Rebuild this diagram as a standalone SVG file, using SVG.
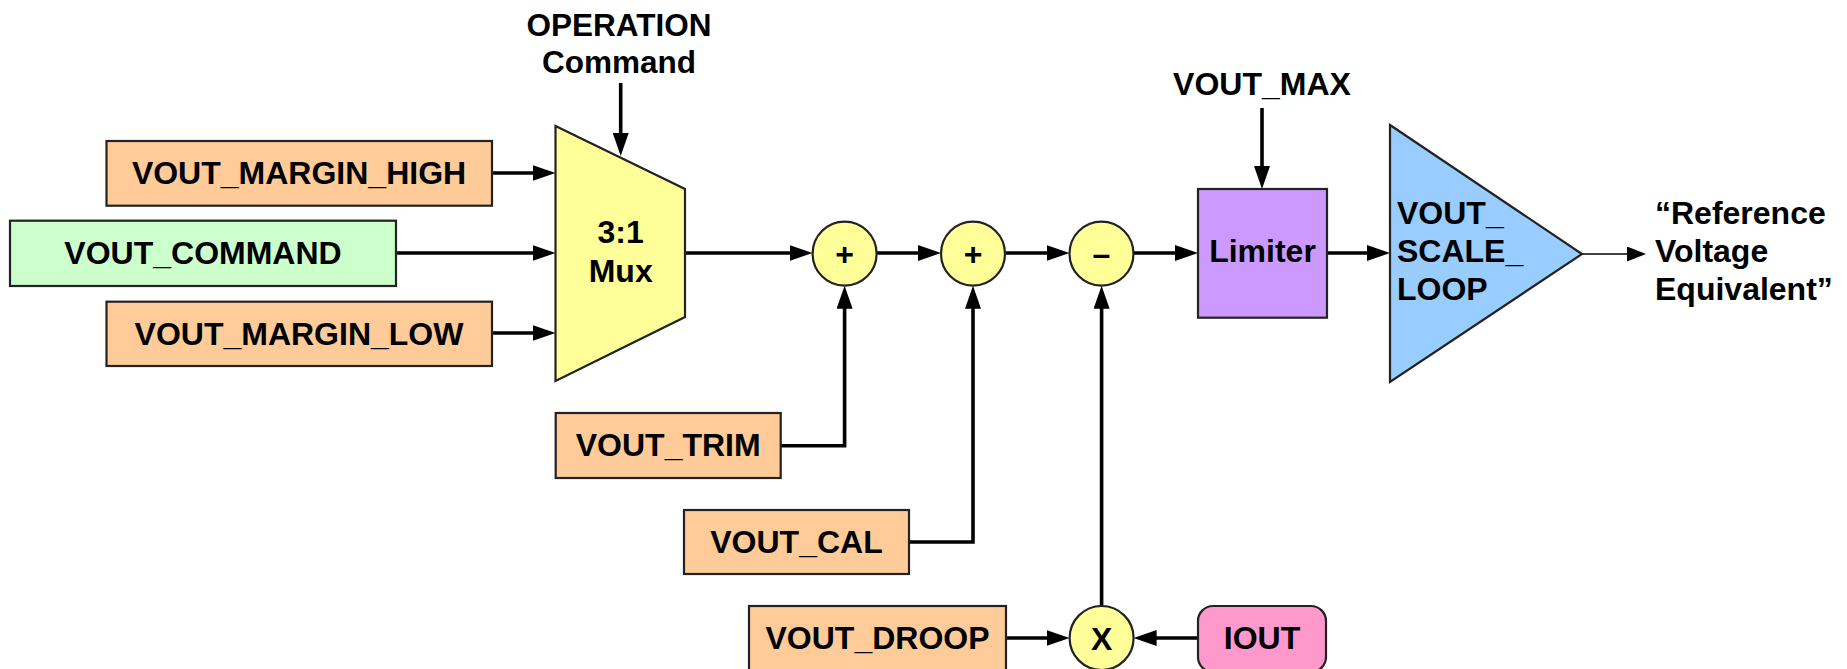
<svg xmlns="http://www.w3.org/2000/svg" width="1847" height="669" viewBox="0 0 1847 669">
<style>
text{font-family:"Liberation Sans",Arial,Helvetica,sans-serif;font-weight:bold;font-size:32px;fill:#000}
.c{text-anchor:middle}
.box{stroke:#222;stroke-width:2.2}
.peach{fill:#FFCC99}
.green{fill:#CCFFCC}
.yel{fill:#FFFF99}
.purp{fill:#CC99FF}
.blue{fill:#99CCFF}
.pink{fill:#FF99CC}
.ln{fill:none;stroke:#000;stroke-width:3.6}
.thin{fill:none;stroke:#000;stroke-width:1.6}
</style>
<defs>
<marker id="ah" markerUnits="userSpaceOnUse" markerWidth="24" markerHeight="16" refX="13" refY="8" orient="auto"><path d="M0,0 L23,8 L0,16 z" fill="#000"/></marker>
<marker id="as" markerUnits="userSpaceOnUse" markerWidth="20" markerHeight="16" refX="10" refY="7.5" orient="auto"><path d="M0,0 L19,7.5 L0,15 z" fill="#000"/></marker>
</defs>
<rect width="1847" height="669" fill="#fff"/>

<g id="connectors">
<line class="ln" x1="620.7" y1="83" x2="620.7" y2="146" marker-end="url(#ah)"/>
<line class="ln" x1="492" y1="173" x2="545.5" y2="173" marker-end="url(#ah)"/>
<line class="ln" x1="396" y1="253" x2="545.5" y2="253" marker-end="url(#ah)"/>
<line class="ln" x1="492" y1="333" x2="545.5" y2="333" marker-end="url(#ah)"/>
<line class="ln" x1="685" y1="253" x2="802.5" y2="253" marker-end="url(#ah)"/>
<line class="ln" x1="876.6" y1="253" x2="931" y2="253" marker-end="url(#ah)"/>
<line class="ln" x1="1005" y1="253" x2="1059.5" y2="253" marker-end="url(#ah)"/>
<line class="ln" x1="1133.5" y1="253" x2="1188" y2="253" marker-end="url(#ah)"/>
<line class="ln" x1="1262" y1="108" x2="1262" y2="179" marker-end="url(#ah)"/>
<line class="ln" x1="1327" y1="253" x2="1380" y2="253" marker-end="url(#ah)"/>
<line class="thin" x1="1582" y1="254" x2="1637" y2="254" marker-end="url(#as)"/>
<polyline class="ln" points="780.7,445.7 844.6,445.7 844.6,295.7" marker-end="url(#ah)"/>
<polyline class="ln" points="909,542 973,542 973,295.7" marker-end="url(#ah)"/>
<line class="ln" x1="1101.6" y1="606" x2="1101.6" y2="295.7" marker-end="url(#ah)"/>
<line class="ln" x1="1006" y1="638" x2="1059.6" y2="638" marker-end="url(#ah)"/>
<line class="ln" x1="1198" y1="638" x2="1143.6" y2="638" marker-end="url(#ah)"/>
</g>

<g id="operation-label">
<text class="c" x="619" y="36" style="font-size:31.5px">OPERATION</text>
<text class="c" x="619" y="73" style="font-size:31.5px">Command</text>
</g>

<g id="vout-margin-high">
<rect class="box peach" x="106.5" y="141" width="385.5" height="64.7"/>
<text class="c" x="299" y="184">VOUT_MARGIN_HIGH</text>
</g>
<g id="vout-command">
<rect class="box green" x="10" y="220.7" width="386" height="65.3"/>
<text class="c" x="203" y="264">VOUT_COMMAND</text>
</g>
<g id="vout-margin-low">
<rect class="box peach" x="106.5" y="301.7" width="385.5" height="64.3"/>
<text class="c" x="299" y="344.5">VOUT_MARGIN_LOW</text>
</g>

<g id="mux">
<polygon class="box yel" points="555.5,126 685,189 685,317 555.5,381"/>
<text class="c" x="620.7" y="243">3:1</text>
<text class="c" x="620.7" y="281.7">Mux</text>
</g>

<g id="sum1">
<circle class="box yel" cx="844.6" cy="253.7" r="32"/>
<text class="c" x="844.6" y="265">+</text>
</g>
<g id="sum2">
<circle class="box yel" cx="973" cy="253.7" r="32"/>
<text class="c" x="973" y="265">+</text>
</g>
<g id="diff">
<circle class="box yel" cx="1101.5" cy="253.7" r="32"/>
<text class="c" x="1101.5" y="265">–</text>
</g>

<g id="vout-max-label">
<text class="c" x="1262" y="95">VOUT_MAX</text>
</g>

<g id="limiter">
<rect class="box purp" x="1198" y="189" width="129" height="128.7"/>
<text class="c" x="1262.5" y="262.3">Limiter</text>
</g>

<g id="vout-scale-loop">
<polygon class="box blue" points="1390,125 1582,254 1390,382"/>
<text x="1397" y="224">VOUT_</text>
<text x="1397" y="262">SCALE_</text>
<text x="1397" y="300">LOOP</text>
</g>

<g id="output-label">
<text x="1655" y="224">“Reference</text>
<text x="1655" y="262">Voltage</text>
<text x="1655" y="300">Equivalent”</text>
</g>

<g id="vout-trim">
<rect class="box peach" x="555.7" y="413" width="225" height="65"/>
<text class="c" x="668.2" y="456">VOUT_TRIM</text>
</g>
<g id="vout-cal">
<rect class="box peach" x="684" y="510" width="225" height="64"/>
<text class="c" x="796.5" y="553">VOUT_CAL</text>
</g>
<g id="vout-droop">
<rect class="box peach" x="749" y="606" width="257" height="66"/>
<text class="c" x="877.5" y="649">VOUT_DROOP</text>
</g>
<g id="mult">
<circle class="box yel" cx="1101.6" cy="638" r="32"/>
<text class="c" x="1101.6" y="649.5">X</text>
</g>
<g id="iout">
<rect class="box pink" x="1198" y="606" width="128" height="66" rx="15" ry="15"/>
<text class="c" x="1262" y="649">IOUT</text>
</g>
</svg>
